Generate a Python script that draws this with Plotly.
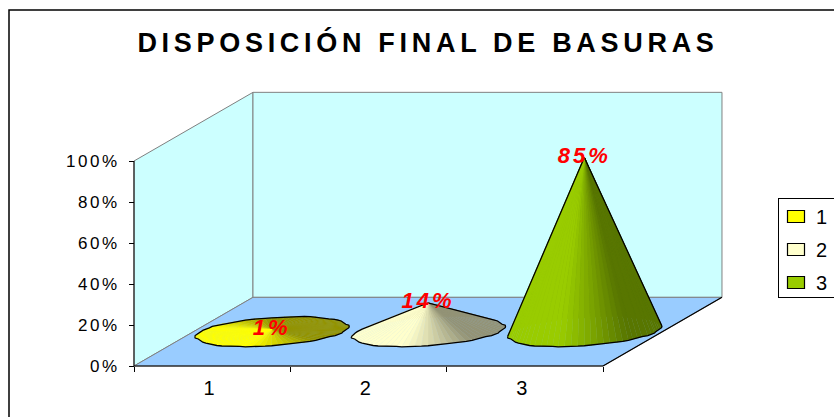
import numpy as np
import plotly.graph_objects as go

TITLE = "DISPOSICIÓN FINAL DE BASURAS"
CATEGORIES = ["1", "2", "3"]
VALUES = [1, 14, 85]
Y_TICKS = [0, 20, 40, 60, 80, 100]

COLORS = [(255, 255, 0), (255, 255, 204), (153, 204, 0)]
WALL = "#CCFFFF"
FLOOR = "#99CCFF"
EDGE = "#808080"
FONT = "Liberation Sans, Arial, sans-serif"

W, H = 834, 417
PLOT_LEFT, PLOT_RIGHT, PLOT_TOP, PLOT_BOTTOM = 134, 603, 161, 366
PX_PER_X = (PLOT_RIGHT - PLOT_LEFT) / len(CATEGORIES)
PX_PER_Y = (PLOT_BOTTOM - PLOT_TOP) / 100

# Oblique depth of the 3D box, in axis units
DEPTH_X, DEPTH_Y = 0.761, 33.5
# Cone base: a circle on the floor seen through the oblique projection
BASE_A, BASE_BX, BASE_BY = 0.457, 0.166, 7.3
# Hand-drawn unevenness of the base rim, going round the circle
RIM = [1.00, 1.02, 0.99, 1.01, 0.98, 1.02, 1.00, 0.98, 1.01, 0.99, 1.02, 1.00,
       0.99, 1.01, 0.98, 1.00, 1.02, 0.99, 1.01, 1.00, 0.98, 1.01, 0.99, 1.02]
N_WEDGES = 72

fig = go.Figure()


def poly(xs, ys, fill=None, line=None, width=1.0):
    fig.add_trace(go.Scatter(
        x=xs, y=ys, mode="lines", showlegend=False, hoverinfo="skip",
        fill="toself" if fill else "none", fillcolor=fill,
        line=dict(color=line or fill, width=width if line else 0.4),
    ))


def shade(rgb, t):
    # Light comes from the front left of the cone
    d = np.cos(t - np.radians(215))
    f = 0.58 + 0.42 * np.clip((d + 0.3) / 0.9, 0, 1)
    return "rgb({},{},{})".format(*[int(c * f) for c in rgb])


def hull_indices(px, py):
    order = sorted(range(len(px)), key=lambda i: (px[i], py[i]))

    def half(seq):
        out = []
        for i in seq:
            while len(out) > 1:
                a, b = out[-2], out[-1]
                if (px[b] - px[a]) * (py[i] - py[a]) - (py[b] - py[a]) * (px[i] - px[a]) <= 0:
                    out.pop()
                else:
                    break
            out.append(i)
        return out[:-1]

    return half(order) + half(order[::-1])


# Walls and floor
x0, x1 = 0, len(CATEGORIES)
poly([x0, x0 + DEPTH_X, x0 + DEPTH_X, x0, x0], [0, DEPTH_Y, 100 + DEPTH_Y, 100, 0], WALL, EDGE)
poly([x0 + DEPTH_X, x1 + DEPTH_X, x1 + DEPTH_X, x0 + DEPTH_X, x0 + DEPTH_X],
     [DEPTH_Y, DEPTH_Y, 100 + DEPTH_Y, 100 + DEPTH_Y, DEPTH_Y], WALL, EDGE)
poly([x0, x1, x1 + DEPTH_X, x0 + DEPTH_X, x0], [0, 0, DEPTH_Y, DEPTH_Y, 0], FLOOR, EDGE)
poly([x1, x1 + DEPTH_X], [0, DEPTH_Y], None, "#000000", 1.2)

# Cones, painted wedge by wedge from back to front
apex_x, apex_y = [], []
ts = np.linspace(0, 2 * np.pi, N_WEDGES, endpoint=False)
rim = np.array(RIM)[(np.arange(N_WEDGES) * len(RIM) // N_WEDGES)]
for i, (value, rgb) in enumerate(zip(VALUES, COLORS)):
    cx, cy = i + 0.5 + DEPTH_X / 2, DEPTH_Y / 2
    ax, ay = cx, cy + value
    apex_x.append(ax)
    apex_y.append(ay)
    bx = cx + rim * (BASE_A * np.cos(ts) + BASE_BX * np.sin(ts))
    by = cy + rim * BASE_BY * np.sin(ts)
    for k in sorted(range(N_WEDGES), key=lambda k: -np.sin(ts[k])):
        n = (k + 1) % N_WEDGES
        poly([ax, bx[k], bx[n], ax], [ay, by[k], by[n], ay], shade(rgb, ts[k]))
    # Silhouette: hull of the clean circle, drawn through the uneven rim
    sx = cx + BASE_A * np.cos(ts) + BASE_BX * np.sin(ts)
    sy = cy + BASE_BY * np.sin(ts)
    px = list(sx * PX_PER_X) + [ax * PX_PER_X]
    py = list(sy * PX_PER_Y) + [ay * PX_PER_Y]
    idx = hull_indices(px, py)
    ox = [float(ax) if j == N_WEDGES else float(bx[j]) for j in idx]
    oy = [float(ay) if j == N_WEDGES else float(by[j]) for j in idx]
    poly(ox + ox[:1], oy + oy[:1], None, "#000000", 1.3)

# Axis lines along the front of the box
poly([x0, x0], [0, 100], None, "#222222", 1.2)
poly([x0, x1], [0, 0], None, "#000000", 1.2)

# Value labels at the cone tips
fig.add_trace(go.Scatter(
    x=apex_x, y=apex_y, mode="text", text=[f"{v}%" for v in VALUES], cliponaxis=False,
    showlegend=False, hoverinfo="skip", textposition="middle center",
    textfont=dict(family=FONT, size=22, color="#FF0000", weight="bold", style="italic"),
))

# Legend entries
for name, rgb in zip(CATEGORIES, COLORS):
    fig.add_trace(go.Bar(
        x=[None], y=[None], name=name, legendgroup=name,
        marker=dict(color="rgb({},{},{})".format(*rgb), line=dict(color="#000000", width=1.2)),
    ))

fig.update_layout(
    width=W, height=H, margin=dict(l=0, r=0, t=0, b=0, autoexpand=False),
    paper_bgcolor="#FFFFFF", plot_bgcolor="rgba(0,0,0,0)",
    font=dict(family=FONT, color="#000000"),
    title=dict(text=TITLE, x=428 / W, xanchor="center", y=1 - 43 / H, yanchor="middle",
               font=dict(family=FONT, size=27, weight="bold", color="#000000")),
    # The axes span the whole page so the box can extend past the axis lines;
    # the tick marks are pinned to the front edges of the box.
    xaxis=dict(domain=[0, 1], range=[-PLOT_LEFT / PX_PER_X, (W - PLOT_LEFT) / PX_PER_X],
               anchor="free", position=1 - PLOT_BOTTOM / H,
               showgrid=False, zeroline=False, showline=False,
               tickmode="array", tickvals=[0.48, 1.48, 2.48], ticktext=CATEGORIES, ticks="",
               ticklabelstandoff=8, tickfont=dict(size=20),
               minor=dict(tickmode="array", tickvals=[0, 1, 2, 3], ticks="outside", ticklen=5,
                          tickcolor="#000000", tickwidth=1, showgrid=False)),
    yaxis=dict(domain=[0, 1], range=[(PLOT_BOTTOM - H) / PX_PER_Y, PLOT_BOTTOM / PX_PER_Y],
               anchor="free", position=PLOT_LEFT / W,
               showgrid=False, zeroline=False, showline=False,
               tickmode="array", tickvals=Y_TICKS, ticktext=[f"{v}%" for v in Y_TICKS],
               ticks="outside", ticklen=5, tickcolor="#000000", tickwidth=1,
               ticklabelstandoff=6, tickfont=dict(size=17)),
    legend=dict(x=778 / W, xanchor="left", y=1 - 198 / H, yanchor="top", bgcolor="#FFFFFF",
                bordercolor="#000000", borderwidth=1, font=dict(size=20), indentation=-3,
                traceorder="grouped", tracegroupgap=4),
    shapes=[dict(type="rect", xref="paper", yref="paper", x0=9 / W, x1=1.02, y0=-0.05, y1=1 - 10 / H,
                 line=dict(color="#000000", width=1.5), layer="below")],
)

# Wider text tracking, legend swatches and legend box than the layout options offer
post = """
document.querySelectorAll('.gtitle').forEach(e => e.style.letterSpacing = '4.7px');
document.querySelectorAll('.ytick text').forEach(e => e.style.letterSpacing = '2.5px');
document.querySelectorAll('.textpoint text').forEach(e => e.style.letterSpacing = '3px');
document.querySelectorAll('.legend .legendpoints path').forEach(e => {
  if (e.getAttribute('d')) e.setAttribute('d', 'M8.5,6H-8.5V-6H8.5Z');
});
document.querySelectorAll('.legend rect.bg').forEach(e => {
  e.setAttribute('width', '90');
  e.setAttribute('height', '99');
});
document.querySelectorAll('.legend .scrollbox').forEach(e => e.style.transform = 'translateY(-2px)');
"""
fig.write_html("out.html", post_script=post)
